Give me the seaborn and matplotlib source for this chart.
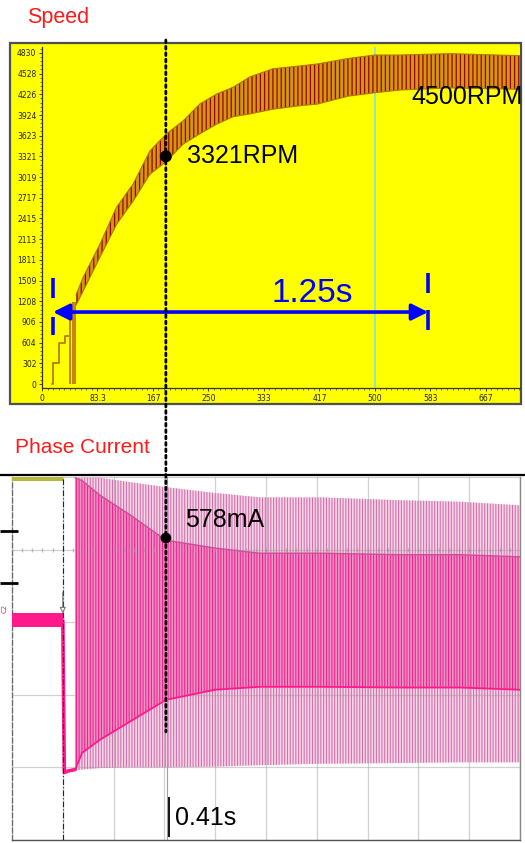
import numpy as np
import matplotlib
matplotlib.use("Agg")
import matplotlib.pyplot as plt
import seaborn as sns
from matplotlib.patches import Rectangle, ConnectionPatch
from matplotlib.lines import Line2D
from matplotlib.ticker import AutoMinorLocator

sns.set_theme(style="white")
plt.rcParams['font.family'] = ['Liberation Sans Narrow', 'Liberation Sans', 'DejaVu Sans']

# ---------------- data: speed panel ----------------
rpm_ticks = [0, 302, 604, 906, 1208, 1509, 1811, 2113, 2415, 2717, 3019,
             3321, 3623, 3924, 4226, 4528, 4830]
time_ticks = [0, 83.33, 166.67, 250, 333.33, 416.67, 500, 583.33, 666.67]
time_tick_labels = ['0', '83.3', '167', '250', '333', '417', '500', '583', '667']

startup_t = [15, 17, 25, 34, 40]
startup_rpm = [0, 302, 604, 700, 700]
spike_t = [42, 48]
spike_rpm = [980, 1200]
spike_w = [3, 5]

speed_t = [51, 62, 87, 112, 137, 162, 187, 212, 237, 262, 287, 312, 347,
           387, 414, 460, 500, 538, 613, 718]
speed_hi = [1300, 1560, 2040, 2580, 2920, 3400, 3650, 3840, 4085, 4230, 4330,
            4480, 4600, 4640, 4670, 4750, 4800, 4800, 4820, 4790]
speed_lo = [1150, 1360, 1850, 2330, 2670, 3060, 3250, 3500, 3650, 3790, 3900,
            3940, 4010, 4060, 4085, 4200, 4250, 4290, 4320, 4300]

marker_t, marker_rpm = 186, 3321
steady_rpm = 4500
cursor_t = 500
span_start, span_end, span_rpm = 16.5, 580, 1050
span_label = "1.25s"
left_bar_lo, left_bar_hi = [715, 1255], [977, 1547]
right_bar_lo, right_bar_hi = [788, 1328], [1080, 1620]

# ---------------- data: phase current panel (scope divisions) ----------------
pre_x = [0.0, 1.0]
pre_lo = [2.93, 2.93]
pre_hi = [3.12, 3.12]
drop_x = [1.0, 1.03, 1.1, 1.24]
drop_y = [3.02, 0.93, 0.95, 0.97]

osc_x = [1.24, 1.38, 1.73, 2.32, 3.03, 4.0, 4.88, 6.06, 7.64, 8.82, 10.0]
outer_hi = [4.99, 4.99, 4.99, 4.93, 4.86, 4.78, 4.72, 4.72, 4.68, 4.66, 4.61]
outer_lo = [0.96, 0.97, 0.99, 1.0, 1.0, 1.01, 1.03, 1.05, 1.06, 1.07, 1.07]
dense_hi = [4.99, 4.95, 4.75, 4.48, 4.13, 4.02, 3.95, 3.95, 3.93, 3.93, 3.90]
dense_lo = [0.96, 1.2, 1.38, 1.63, 1.93, 2.07, 2.11, 2.11, 2.10, 2.10, 2.07]

marker_div, marker_level = 3.03, 4.16
current_label = "578mA"
time_label = "0.41s"
level_marks = [4.26, 3.54]

# ---------------- figure ----------------
W, H = 525, 843
fig = plt.figure(figsize=(W / 100, H / 100), dpi=100)
fig.patch.set_facecolor('white')


def fx(px):
    return px / W


def fy(py):
    return 1 - py / H


# yellow frame of speed panel
fig.patches.append(Rectangle((fx(10), fy(404)), (521 - 10) / W, (404 - 43) / H,
                             transform=fig.transFigure, facecolor='#ffff00',
                             edgecolor='#505050', linewidth=1.6, zorder=-5))

ax1 = fig.add_axes([fx(42), fy(388), (520 - 42) / W, (388 - 47) / H])
ax1.set_facecolor('#ffff00')
ax1.set_xlim(0, 718)
ax1.set_ylim(-58, 4917)

ax1.axvline(cursor_t, color='#8fe6c6', lw=1.4, zorder=1)

with plt.rc_context({'hatch.linewidth': 0.9}):
    ax1.fill_between(speed_t, speed_lo, speed_hi, facecolor='#d6940f',
                     edgecolor='#8c0a00', hatch='||||', linewidth=0, zorder=2)
sns.lineplot(x=startup_t, y=startup_rpm, drawstyle='steps-post', color='#b87a08',
             lw=1.3, estimator=None, sort=False, ax=ax1, zorder=2)
ax1.bar(spike_t, spike_rpm, width=spike_w, color='#c8860a', edgecolor='none',
        linewidth=0, zorder=2)
sns.lineplot(x=speed_t, y=speed_hi, color='#b5730a', lw=0.8, estimator=None,
             ax=ax1, zorder=2)
sns.lineplot(x=speed_t, y=speed_lo, color='#b5730a', lw=0.8, estimator=None,
             ax=ax1, zorder=2)

ax1.set_yticks(rpm_ticks)
ax1.set_yticklabels([str(v) for v in rpm_ticks])
ax1.set_xticks(time_ticks)
ax1.set_xticklabels(time_tick_labels)
ax1.xaxis.set_minor_locator(AutoMinorLocator(10))
ax1.yaxis.set_minor_locator(AutoMinorLocator(5))
ax1.tick_params(axis='both', which='major', labelsize=5.5, length=2.5, width=0.6,
                color='#222222', labelcolor='#222222', pad=1.5, direction='out',
                bottom=True, left=True)
ax1.tick_params(axis='both', which='minor', length=1.3, width=0.5,
                color='#444444', direction='out', bottom=True, left=True)
for lab in ax1.get_xticklabels() + ax1.get_yticklabels():
    lab.set_family(['DejaVu Sans'])
for s in ['top', 'right']:
    ax1.spines[s].set_visible(False)
for s in ['left', 'bottom']:
    ax1.spines[s].set_color('#333333')
    ax1.spines[s].set_linewidth(0.9)
ax1.set_xlabel('')
ax1.set_ylabel('')

sns.scatterplot(x=[marker_t], y=[marker_rpm], color='black', s=75,
                edgecolor='none', ax=ax1, zorder=6)
ax1.annotate(f"{marker_rpm}RPM", xy=(marker_t, marker_rpm), xytext=(15, -4.5),
             textcoords='offset points', ha='left', va='baseline',
             fontsize=18, color='black')
ax1.annotate(f"{steady_rpm}RPM", xy=(555, 4085), ha='left', va='baseline',
             fontsize=18, color='black', annotation_clip=False)

# blue span arrow
ax1.annotate('', xy=(span_start, span_rpm), xytext=(span_end, span_rpm),
             arrowprops=dict(arrowstyle='<|-|>,head_length=0.7,head_width=0.35',
                             color='#0000ff', lw=2.6, shrinkA=0, shrinkB=0,
                             mutation_scale=14), zorder=5)
ax1.vlines([span_start] * 2, left_bar_lo, left_bar_hi, color='#0000ff', lw=2.6, zorder=5)
ax1.vlines([span_end] * 2, right_bar_lo, right_bar_hi, color='#0000ff', lw=2.6, zorder=5)
ax1.text(345, 1196, span_label, ha='left', va='baseline', fontsize=24,
         color='#0000ff', zorder=5)

# ---------------- phase current panel ----------------
ax2 = fig.add_axes([fx(12), fy(840), (520 - 12) / W, (840 - 477) / H])
ax2.set_facecolor('white')
ax2.set_xlim(0, 10)
ax2.set_ylim(0, 5)

with plt.rc_context({'hatch.linewidth': 0.8}):
    ax2.fill_between(osc_x, outer_lo, outer_hi, facecolor='#f6d6e8',
                     edgecolor='#d670ad', hatch='||||||', linewidth=0, zorder=2)
    ax2.fill_between(osc_x, dense_lo, dense_hi, facecolor='#e79ac6',
                     edgecolor='#ff1a8c', hatch='||||||', linewidth=0, zorder=3)
sns.lineplot(x=osc_x, y=dense_lo, color='#ff1a8c', lw=1.3, estimator=None,
             ax=ax2, zorder=4)
sns.lineplot(x=osc_x, y=dense_hi, color='#d04c98', lw=1.0, estimator=None,
             ax=ax2, zorder=4)

ax2.fill_between(pre_x, pre_lo, pre_hi, color='#ff1a8c', linewidth=0, zorder=4)
sns.lineplot(x=drop_x, y=drop_y, color='#ff1a8c', lw=2.6, estimator=None,
             sort=False, ax=ax2, zorder=4)
ax2.fill_between([0, 1], 4.94, 5.0, color='#b8b83a', linewidth=0, zorder=4)

ax2.set_xticks(range(0, 11))
ax2.set_yticks(range(0, 6))
ax2.tick_params(length=0, labelbottom=False, labelleft=False)
ax2.grid(True, color='#9a9a9a', alpha=0.45, lw=0.9)
ax2.set_axisbelow(False)
ax2.plot(np.arange(0.2, 10, 0.2), [4] * 49, linestyle='none', marker='|',
         ms=3, color='#999999', alpha=0.6, zorder=5)

ax2.axvline(1.0, color='#222222', lw=0.8, ls=(0, (5, 2, 1, 2)), zorder=6)
ax2.axvline(marker_div + 0.03, color='#a0a0a0', lw=0.8, zorder=6)
ax2.vlines(marker_div + 0.07, 0.04, 0.59, color='black', lw=1.3, zorder=6)
ax2.annotate('', xy=(1.0, 3.08), xytext=(1.0, 3.45),
             arrowprops=dict(arrowstyle='-|>', color='#777777', lw=0.8,
                             fc='white', mutation_scale=9), zorder=7)

ax2.spines['top'].set_visible(False)
ax2.spines['left'].set_color('#444444')
ax2.spines['left'].set_linestyle((0, (4, 2)))
ax2.spines['left'].set_linewidth(0.9)
ax2.spines['bottom'].set_color('#555555')
ax2.spines['bottom'].set_linewidth(1.0)
ax2.spines['right'].set_color('#888888')
ax2.spines['right'].set_linewidth(1.0)
ax2.set_xlabel('')
ax2.set_ylabel('')

ax2.hlines(level_marks, -0.236, 0.118, color='black', lw=2.0, clip_on=False, zorder=7)
ax2.text(-0.14, 3.12, 'C2', rotation=90, fontsize=5, color='#e0207a',
         ha='center', va='bottom', family=['DejaVu Sans'])

sns.scatterplot(x=[marker_div], y=[marker_level], color='black', s=60,
                edgecolor='none', ax=ax2, zorder=8)
ax2.annotate(current_label, xy=(marker_div, marker_level), xytext=(13.5, 8),
             textcoords='offset points', ha='left', va='baseline',
             fontsize=18, color='black', zorder=8)
ax2.text(marker_div + 0.18, 0.2, time_label, ha='left', va='baseline',
         fontsize=18, color='black', zorder=8)

# cursor line joining both panels
con = ConnectionPatch(xyA=(marker_t, 5019), coordsA=ax1.transData,
                      xyB=(marker_div, 1.49), coordsB=ax2.transData,
                      color='black', lw=2.0, linestyle=(0, (1, 1.3)), zorder=9)
fig.add_artist(con)

# separator line of the scope panel
fig.add_artist(Line2D([0, 1], [fy(475), fy(475)], transform=fig.transFigure,
                      color='black', lw=1.6))

fig.text(fx(27), fy(23), 'Speed', ha='left', va='baseline', fontsize=15.5,
         color='#ff1a1a')
fig.text(fx(15), fy(453), 'Phase Current', ha='left', va='baseline',
         fontsize=15, color='#ff1a1a')

fig.savefig('out.png', dpi=100)
